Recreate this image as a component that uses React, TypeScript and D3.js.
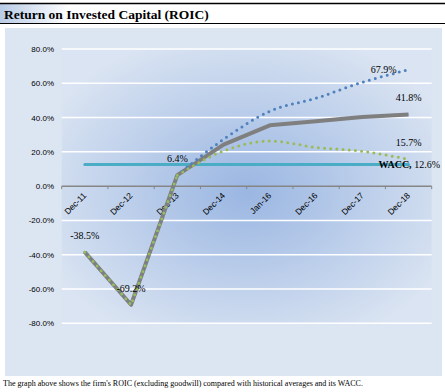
import * as d3 from "d3";

const categories = ["Dec-11", "Dec-12", "Dec-13", "Dec-14", "Jan-16", "Dec-16", "Dec-17", "Dec-18"];
// ROIC history + forecast (solid gray), high and low projections (dotted)
const roic = [-38.5, -69.2, 6.4, 24.2, 35.5, 37.8, 40.4, 41.8];
const highCase = [-38.5, -69.2, 6.4, 27.3, 43.7, 51.3, 60.6, 67.9];
const lowCase = [-38.5, -69.2, 6.4, 20.5, 26.3, 22.6, 20.3, 15.7];
const wacc = 12.6;
const yTicks = [80, 60, 40, 20, 0, -20, -40, -60, -80];
const valueLabels = [
  { cat: "Dec-11", value: -38.5 },
  { cat: "Dec-12", value: -69.2 },
  { cat: "Dec-13", value: 6.4 },
  { cat: "Dec-18", value: 41.8 },
  { cat: "Dec-18", value: 15.7 },
];

const width = 445;
const height = 392;
const plotLeft = 61.7;
const plotRight = 431.7;
const plotTop = 49;
const plotBottom = 323.3;

const serif = "'Liberation Serif', 'Times New Roman', serif";
const sans = "'Liberation Sans', Arial, sans-serif";

export default function App() {
  const x = d3.scaleBand(categories, [plotLeft, plotRight]);
  const xc = (c: string) => x(c) + x.bandwidth() / 2;
  const y = d3.scaleLinear([-80, 80], [plotBottom, plotTop]);

  const pts = (vals: number[]) => vals.map((v, i) => [xc(categories[i]), y(v)]);
  const straight = d3.line();
  const smooth = d3.line().curve(d3.curveMonotoneX);
  // history part drawn straight, projections smoothed
  const dottedPath = (vals: number[]) =>
    straight(pts(vals).slice(0, 3)) + smooth(pts(vals).slice(2));

  const bounds = [...categories.map((c) => x(c)), plotRight];
  const last = categories[categories.length - 1];

  return (
    <div style={{ position: "absolute", left: 0, top: 0 }}>
      <svg width={width} height={height} style={{ display: "block" }}>
        <defs>
          <linearGradient id="titleGrad" x1="0" x2="1" y1="0" y2="0">
            <stop offset="0" stopColor="#b9cce6" />
            <stop offset="1" stopColor="#ffffff" />
          </linearGradient>
          <radialGradient id="plotGrad" cx="0.5" cy="0.52" r="0.6">
            <stop offset="0" stopColor="#9ab6e2" />
            <stop offset="1" stopColor="#dae4f2" />
          </radialGradient>
        </defs>
        <rect x={0} y={0} width={width} height={height} fill="#ffffff" />

        {/* title bar */}
        <rect x={0} y={4} width={70} height={19} fill="url(#titleGrad)" />
        <line x1={0} x2={width} y1={3.5} y2={3.5} stroke="#000" strokeWidth={1.5} />
        <line x1={0} x2={width} y1={23.5} y2={23.5} stroke="#000" strokeWidth={1} />
        <text x={4} y={19} fontFamily={serif} fontWeight="bold" fontSize={13.5} fill="#000">
          Return on Invested Capital (ROIC)
        </text>

        {/* panel + plot area */}
        <rect x={5} y={28} width={437} height={348} fill="#dce6f2" />
        <rect
          x={plotLeft}
          y={plotTop}
          width={plotRight - plotLeft}
          height={plotBottom - plotTop}
          fill="url(#plotGrad)"
        />

        {/* grid + y labels */}
        {yTicks.map((t) => (
          <g key={t}>
            {t !== 0 && (
              <line x1={plotLeft} x2={plotRight} y1={y(t)} y2={y(t)} stroke="#ffffff" strokeWidth={1.5} />
            )}
            <text
              x={54}
              y={y(t) + 3}
              textAnchor="end"
              fontFamily={sans}
              fontSize={8}
              fill="#000"
            >
              {t.toFixed(1) + "%"}
            </text>
          </g>
        ))}

        {/* zero axis */}
        <line x1={plotLeft} x2={plotRight} y1={y(0)} y2={y(0)} stroke="#868686" strokeWidth={1.5} />
        {bounds.map((b, i) => (
          <line key={i} x1={b} x2={b} y1={y(0)} y2={y(0) + 3} stroke="#868686" strokeWidth={1} />
        ))}
        {categories.map((c) => (
          <text
            key={c}
            transform={`translate(${xc(c) + 2},${y(0) + 10}) rotate(-45)`}
            textAnchor="end"
            fontFamily={sans}
            fontSize={8.5}
            fill="#000"
          >
            {c}
          </text>
        ))}

        {/* WACC */}
        <line
          x1={xc(categories[0])}
          x2={xc(last)}
          y1={y(wacc)}
          y2={y(wacc)}
          stroke="#4bacc6"
          strokeWidth={3}
          strokeLinecap="round"
        />

        {/* series */}
        <path d={straight(pts(roic))} fill="none" stroke="#7f7f7f" strokeWidth={4} strokeLinejoin="round" />
        <path
          d={dottedPath(highCase)}
          fill="none"
          stroke="#4f81bd"
          strokeWidth={3}
          strokeDasharray="0 6.2"
          strokeLinecap="round"
        />
        <path
          d={dottedPath(lowCase)}
          fill="none"
          stroke="#9bbb59"
          strokeWidth={3}
          strokeDasharray="0 6.2"
          strokeLinecap="round"
        />

        {/* value labels */}
        {valueLabels.map((l, i) => (
          <text
            key={i}
            x={xc(l.cat)}
            y={y(l.value) - 13}
            textAnchor="middle"
            fontFamily={serif}
            fontSize={10}
            fill="#000"
          >
            {l.value.toFixed(1) + "%"}
          </text>
        ))}
        <text
          x={xc(last) - 12}
          y={y(highCase[highCase.length - 1]) + 3.5}
          textAnchor="end"
          fontFamily={serif}
          fontSize={10}
          fill="#000"
        >
          {highCase[highCase.length - 1].toFixed(1) + "%"}
        </text>
        <text x={xc(last) - 30} y={y(wacc) + 3.5} fontFamily={serif} fontSize={10} fill="#000">
          <tspan fontWeight="bold">WACC,</tspan>
          <tspan>{" " + wacc.toFixed(1) + "%"}</tspan>
        </text>

        {/* footnote */}
        <text x={3} y={386} fontFamily={serif} fontSize={8} fill="#000">
          The graph above shows the firm's ROIC (excluding goodwill) compared with historical averages and its WACC.
        </text>
      </svg>
    </div>
  );
}
